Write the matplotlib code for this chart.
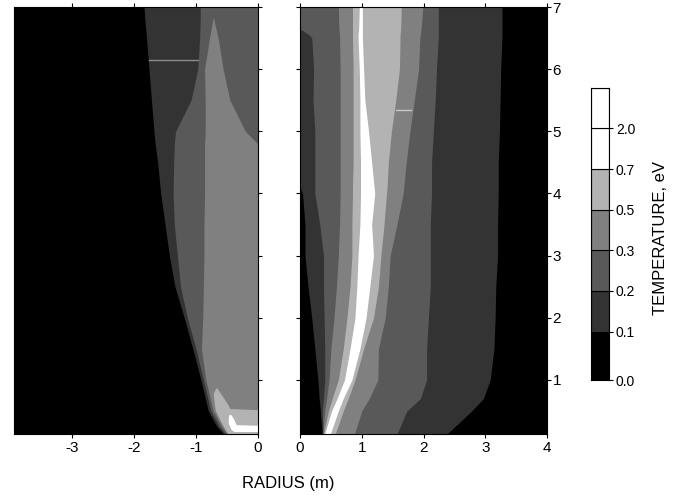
import numpy as np
import matplotlib.pyplot as plt

plt.rcParams['font.family'] = ['Liberation Sans', 'DejaVu Sans']
plt.rcParams['axes.unicode_minus'] = False

# temperature levels (eV) and grey shades of the bands
levels = [0.0, 0.1, 0.2, 0.3, 0.5, 0.7, 2.0]
level_colors = ['#000000', '#333333', '#595959', '#808080', '#b3b3b3', '#ffffff', '#ffffff']

# left half (radius < 0): band edges, by height
left_y = [7.0, 6.84, 6.5, 6.0, 5.5, 5.0, 4.8, 4.5, 4.0, 3.5, 3.0, 2.5, 2.0, 1.5, 1.0, 0.5, 0.25, 0.13]
left_b1 = [-1.84, -1.83, -1.80, -1.76, -1.72, -1.68, -1.66, -1.62, -1.57, -1.50, -1.43, -1.34, -1.19, -1.05, -0.92, -0.80, -0.66, -0.55]
left_b2 = [-0.93, -0.93, -0.94, -0.97, -1.08, -1.33, -1.35, -1.36, -1.37, -1.35, -1.30, -1.25, -1.14, -1.00, -0.88, -0.76, -0.62, -0.52]
left_b3 = [-0.72, -0.72, -0.78, -0.86, -0.85, -0.85, -0.86, -0.86, -0.86, -0.87, -0.87, -0.88, -0.89, -0.91, -0.84, -0.72, -0.58, -0.49]
left_r3 = [-0.72, -0.72, -0.64, -0.56, -0.45, -0.20, 0.0, 0.0, 0.0, 0.0, 0.0, 0.0, 0.0, 0.0, 0.0, 0.0, 0.0, 0.0]
# light grey (0.5-0.7) pocket near the axis at the bottom
left_p4_y = [0.87, 0.78, 0.6, 0.54, 0.52, 0.33, 0.19, 0.13]
left_p4_lo = [-0.68, -0.72, -0.70, -0.69, -0.69, -0.60, -0.52, -0.48]
left_p4_hi = [-0.66, -0.60, -0.48, -0.45, 0.0, 0.0, 0.0, 0.0]
# white (>0.7) pocket
left_p5_y = [0.44, 0.35, 0.28, 0.27, 0.2, 0.17]
left_p5_lo = [-0.47, -0.48, -0.47, -0.46, -0.43, -0.38]
left_p5_hi = [-0.43, -0.38, -0.35, 0.0, 0.0, 0.0]

# right half (radius > 0): left (l) and right (r) edge of each band
right_y = [7.0, 6.65, 6.55, 6.5, 6.0, 5.5, 5.0, 4.5, 4.1, 4.0, 3.5, 3.0, 2.5, 2.0, 1.5, 1.0, 0.7, 0.5, 0.13]
right_l1 = [0, 0, 0, 0, 0, 0, 0, 0, 0, 0.04, 0.08, 0.08, 0.13, 0.19, 0.24, 0.29, 0.31, 0.33, 0.36]
right_l2 = [0, 0, 0.15, 0.19, 0.22, 0.21, 0.24, 0.24, 0.24, 0.24, 0.32, 0.38, 0.38, 0.39, 0.40, 0.40, 0.38, 0.36, 0.37]
right_l3 = [0.62, 0.63, 0.64, 0.64, 0.65, 0.65, 0.65, 0.65, 0.65, 0.65, 0.64, 0.62, 0.59, 0.55, 0.50, 0.47, 0.43, 0.40, 0.37]
right_l4 = [0.85, 0.85, 0.85, 0.85, 0.86, 0.86, 0.86, 0.86, 0.85, 0.85, 0.84, 0.84, 0.81, 0.76, 0.70, 0.62, 0.52, 0.46, 0.38]
right_l5 = [0.96, 0.95, 0.94, 0.94, 0.96, 0.97, 0.97, 0.98, 0.98, 0.98, 0.97, 0.94, 0.92, 0.89, 0.81, 0.72, 0.60, 0.51, 0.40]
right_r5 = [1.01, 1.01, 1.01, 1.01, 1.03, 1.05, 1.11, 1.16, 1.20, 1.21, 1.16, 1.19, 1.13, 1.07, 0.97, 0.84, 0.70, 0.62, 0.49]
right_r4 = [1.64, 1.63, 1.62, 1.62, 1.61, 1.55, 1.48, 1.43, 1.41, 1.40, 1.36, 1.31, 1.27, 1.19, 1.03, 0.89, 0.78, 0.70, 0.57]
right_r3 = [1.99, 1.96, 1.95, 1.94, 1.92, 1.85, 1.78, 1.72, 1.68, 1.67, 1.57, 1.46, 1.43, 1.38, 1.27, 1.26, 1.12, 1.00, 0.88]
right_r2 = [2.24, 2.24, 2.24, 2.24, 2.21, 2.19, 2.16, 2.13, 2.13, 2.13, 2.11, 2.11, 2.11, 2.08, 2.05, 2.05, 1.95, 1.73, 1.57]
right_r1 = [3.27, 3.27, 3.27, 3.27, 3.25, 3.24, 3.23, 3.21, 3.21, 3.21, 3.20, 3.20, 3.17, 3.16, 3.14, 3.08, 2.97, 2.78, 2.38]

# thin streaks in the original plot
left_streak_x = [-1.76, -0.96]
left_streak_y = [6.15, 6.15]
right_streak_x = [1.55, 1.79]
right_streak_y = [5.35, 5.35]

left_xticks = [-3, -2, -1, 0]
right_xticks = [0, 1, 2, 3, 4]
yticks = [1, 2, 3, 4, 5, 6, 7]

fig = plt.figure(figsize=(6.78, 4.97), dpi=100)
axL = fig.add_axes([0.0211, 0.1268, 0.359, 0.859])
axR = fig.add_axes([0.4425, 0.1268, 0.3643, 0.859])
cax = fig.add_axes([0.8712, 0.2354, 0.027, 0.588])

for ax in (axL, axR):
    ax.set_facecolor(level_colors[0])
    ax.set_ylim(0.13, 7.0)
    ax.set_yticks(yticks)
    ax.tick_params(direction='out', length=3, width=0.8, labelsize=11, pad=2,
                   top=True, bottom=True, left=True, right=True)

# left half
axL.fill_betweenx(left_y, left_b1, 0, color=level_colors[1], lw=0)
axL.fill_betweenx(left_y, left_b2, 0, color=level_colors[2], lw=0)
axL.fill_betweenx(left_y, left_b3, left_r3, color=level_colors[3], lw=0)
axL.fill_betweenx(left_p4_y, left_p4_lo, left_p4_hi, color=level_colors[4], lw=0)
axL.fill_betweenx(left_p5_y, left_p5_lo, left_p5_hi, color=level_colors[5], lw=0)
axL.plot(left_streak_x, left_streak_y, color='#8c8c8c', lw=1)
axL.set_xlim(-3.94, 0)
axL.set_xticks(left_xticks)
axL.tick_params(axis='y', left=False, labelleft=False, labelright=False)

# right half
right_lo = [right_l1, right_l2, right_l3, right_l4, right_l5]
right_hi = [right_r1, right_r2, right_r3, right_r4, right_r5]
for k, (lo, hi) in enumerate(zip(right_lo, right_hi), start=1):
    axR.fill_betweenx(right_y, lo, hi, color=level_colors[k], lw=0)
axR.plot(right_streak_x, right_streak_y, color='#c8c8c8', lw=1)
axR.set_xlim(0, 4)
axR.set_xticks(right_xticks)
axR.tick_params(axis='y', labelleft=False, labelright=True, pad=1)

fig.text(0.425, 0.028, 'RADIUS (m)', ha='center', va='center', fontsize=12)

# colour key
cbar_bottom = -0.19
for i, c in enumerate(level_colors):
    lo = cbar_bottom if i == 0 else i
    cax.bar(0.5, i + 1 - lo, bottom=lo, width=1, color=c, edgecolor='black', lw=0.8)
cax.set_xlim(0, 1)
cax.set_ylim(cbar_bottom, len(levels))
cax.set_xticks([])
cax.set_yticks([cbar_bottom] + list(range(1, len(levels))))
cax.set_yticklabels(['%.1f' % v for v in levels])
cax.tick_params(axis='y', left=False, right=True, labelleft=False, labelright=True,
                direction='out', length=3, width=0.8, labelsize=10, pad=2)
fig.text(0.9735, 0.521, 'TEMPERATURE, eV', rotation=90, ha='center', va='center', fontsize=12)

fig.savefig('out.png', dpi=100)
